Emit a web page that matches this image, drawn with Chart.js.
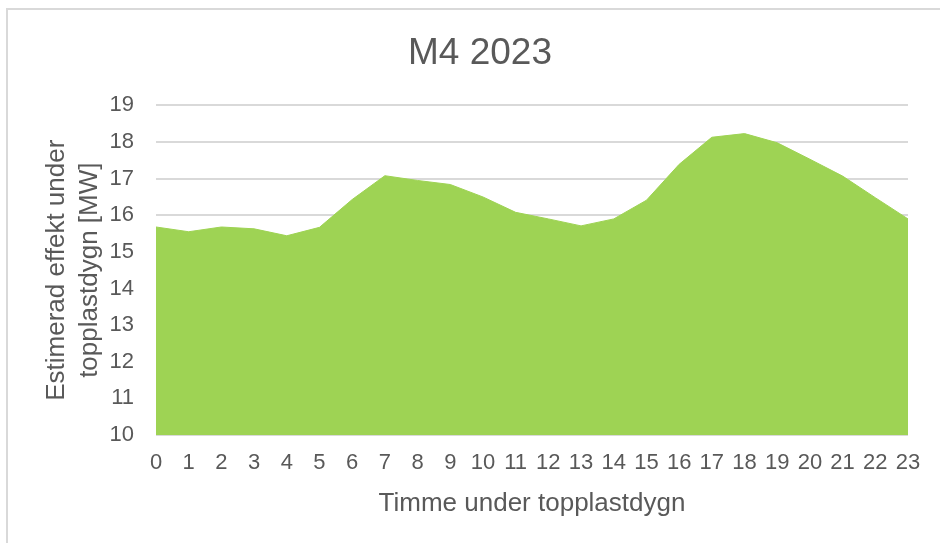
<!DOCTYPE html>
<html>
<head>
<meta charset="utf-8">
<script src="https://cdn.jsdelivr.net/npm/chart.js@4/dist/chart.umd.min.js"></script>
<style>
  html, body { margin: 0; padding: 0; background: #fff; }
  #wrap { position: relative; width: 940px; height: 543px; }
</style>
</head>
<body>
<div id="wrap"><canvas id="m4Chart"></canvas></div>
<script>
var hours = ['0', '1', '2', '3', '4', '5', '6', '7', '8', '9', '10', '11',
             '12', '13', '14', '15', '16', '17', '18', '19', '20', '21', '22', '23'];
var effectMW = [15.68, 15.55, 15.68, 15.63, 15.44, 15.67, 16.43, 17.08, 16.95, 16.84, 16.50, 16.08,
                15.90, 15.71, 15.90, 16.41, 17.39, 18.13, 18.23, 17.98, 17.53, 17.07, 16.48, 15.90];
var yMin = 10;
var yMax = 19;
var chartTitle = 'M4 2023';

var textColor = '#595959';
var fontFamily = '"Liberation Sans", Arial, sans-serif';

// light frame round the chart + title centred on the whole frame (Excel style)
var framePlugin = {
    id: 'frame',
    beforeDraw: function (chart) {
        var ctx = chart.ctx;
        ctx.save();
        ctx.strokeStyle = '#d9d9d9';
        ctx.lineWidth = 2;
        ctx.strokeRect(7, 9, 1000, 1000);
        ctx.restore();
    },
    afterDraw: function (chart) {
        var ctx = chart.ctx;
        var t = chart.titleBlock;
        ctx.save();
        ctx.fillStyle = textColor;
        ctx.font = '37px ' + fontFamily;
        ctx.textAlign = 'center';
        ctx.textBaseline = 'middle';
        ctx.fillText(chartTitle, 480, t.top + 32 + 37 * 1.2 / 2);
        ctx.restore();
    }
};

var ctx = document.getElementById('m4Chart').getContext('2d');
var m4Chart = new Chart(ctx, {
    type: 'line',
    data: {
        labels: hours,
        datasets: [{
            label: chartTitle,
            data: effectMW,
            fill: 'origin',
            backgroundColor: '#9ed354',
            borderColor: '#9ed354',
            borderWidth: 1,
            pointRadius: 0,
            tension: 0
        }]
    },
    options: {
        responsive: true,
        maintainAspectRatio: false,
        animation: false,
        layout: {
            padding: { left: 0, right: 32, top: 0, bottom: 24 }
        },
        plugins: {
            legend: { display: false },
            tooltip: { enabled: false },
            // keeps the room for the title; the text itself is drawn by framePlugin
            title: {
                display: true,
                text: chartTitle,
                color: 'rgba(0,0,0,0)',
                font: { family: fontFamily, size: 37, weight: 'normal' },
                padding: { top: 32, bottom: 29 }
            }
        },
        scales: {
            x: {
                offset: false,
                grid: { display: false, drawTicks: false },
                border: { display: false },
                ticks: {
                    color: textColor,
                    font: { family: fontFamily, size: 22 },
                    maxRotation: 0,
                    autoSkip: false,
                    padding: 15
                },
                title: {
                    display: true,
                    text: 'Timme under topplastdygn',
                    color: textColor,
                    font: { family: fontFamily, size: 26 },
                    padding: { top: 0, bottom: 0 }
                },
                afterFit: function (scale) { scale.height = 84; }
            },
            y: {
                min: yMin,
                max: yMax,
                grid: { color: '#d9d9d9', lineWidth: 2, drawTicks: false },
                border: { display: false },
                ticks: {
                    stepSize: 1,
                    color: textColor,
                    font: { family: fontFamily, size: 22 },
                    padding: 22
                },
                title: {
                    display: true,
                    text: ['Estimerad effekt under', 'topplastdygn [MW]'],
                    color: textColor,
                    font: { family: fontFamily, size: 26, lineHeight: 1.27 },
                    padding: { top: 40, bottom: 0 }
                },
                afterFit: function (scale) { scale.width = 156; }
            }
        }
    },
    plugins: [framePlugin]
});
</script>
</body>
</html>
